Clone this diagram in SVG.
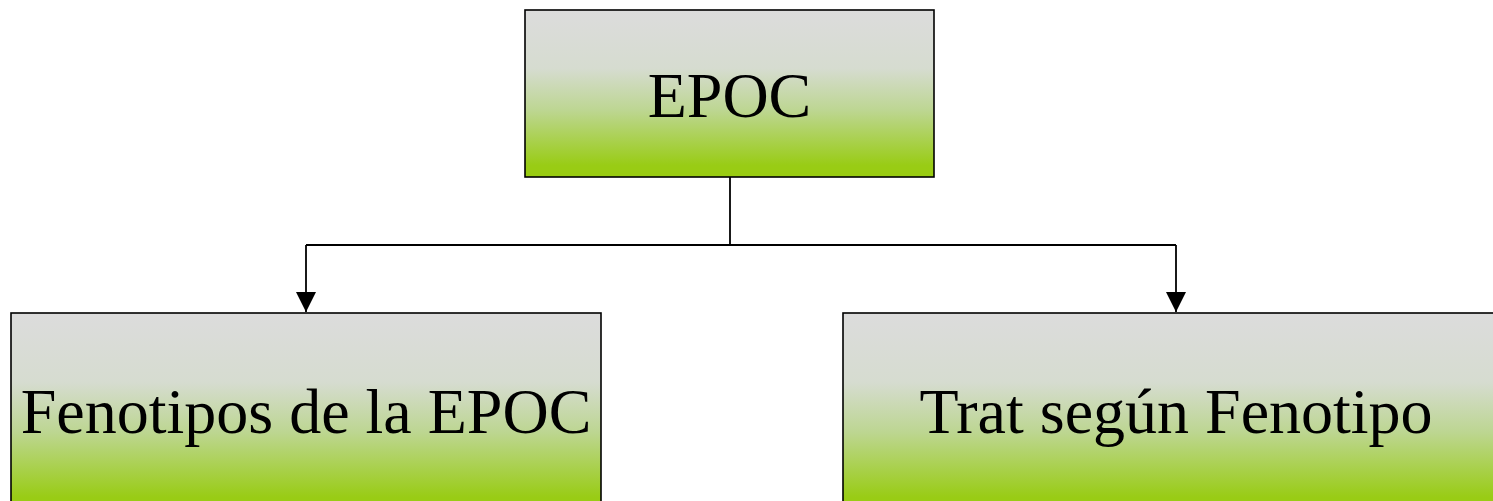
<svg xmlns="http://www.w3.org/2000/svg" width="1493" height="501" viewBox="0 0 1493 501">
  <style>
    .box { stroke: #000; stroke-width: 1.6; fill: url(#g); }
    .lbl { font-family: "Liberation Serif", "Times New Roman", serif; font-size: 64px; fill: #000; text-anchor: middle; }
    .conn { stroke: #000; stroke-width: 1.8; fill: none; }
  </style>
  <defs>
    <linearGradient id="g" x1="0" y1="0" x2="0" y2="1">
      <stop offset="0" stop-color="#dcdcdc"/>
      <stop offset="0.35" stop-color="#d6dcd0"/>
      <stop offset="0.6" stop-color="#bdd692"/>
      <stop offset="0.93" stop-color="#99cc15"/>
      <stop offset="1" stop-color="#99cc11"/>
    </linearGradient>
    <marker id="arr" markerWidth="20" markerHeight="21" refX="20" refY="10" orient="auto" markerUnits="userSpaceOnUse">
      <path d="M0,0 L20,10 L0,20 Z" fill="#000"/>
    </marker>
  </defs>
  <g id="connectors">
    <path class="conn" d="M730,177 V245"/>
    <path class="conn" d="M306,245 H1176"/>
    <path class="conn" d="M306,245 V312" marker-end="url(#arr)"/>
    <path class="conn" d="M1176,245 V312" marker-end="url(#arr)"/>
  </g>
  <g id="node-epoc">
    <rect class="box" x="525" y="10" width="409" height="167"/>
    <text class="lbl" x="729.5" y="117">EPOC</text>
  </g>
  <g id="node-fenotipos">
    <rect class="box" x="11" y="313" width="590" height="198"/>
    <text class="lbl" x="306" y="433">Fenotipos de la EPOC</text>
  </g>
  <g id="node-trat">
    <rect class="box" x="843" y="313" width="666" height="198"/>
    <text class="lbl" x="1176" y="433">Trat según Fenotipo</text>
  </g>
</svg>
